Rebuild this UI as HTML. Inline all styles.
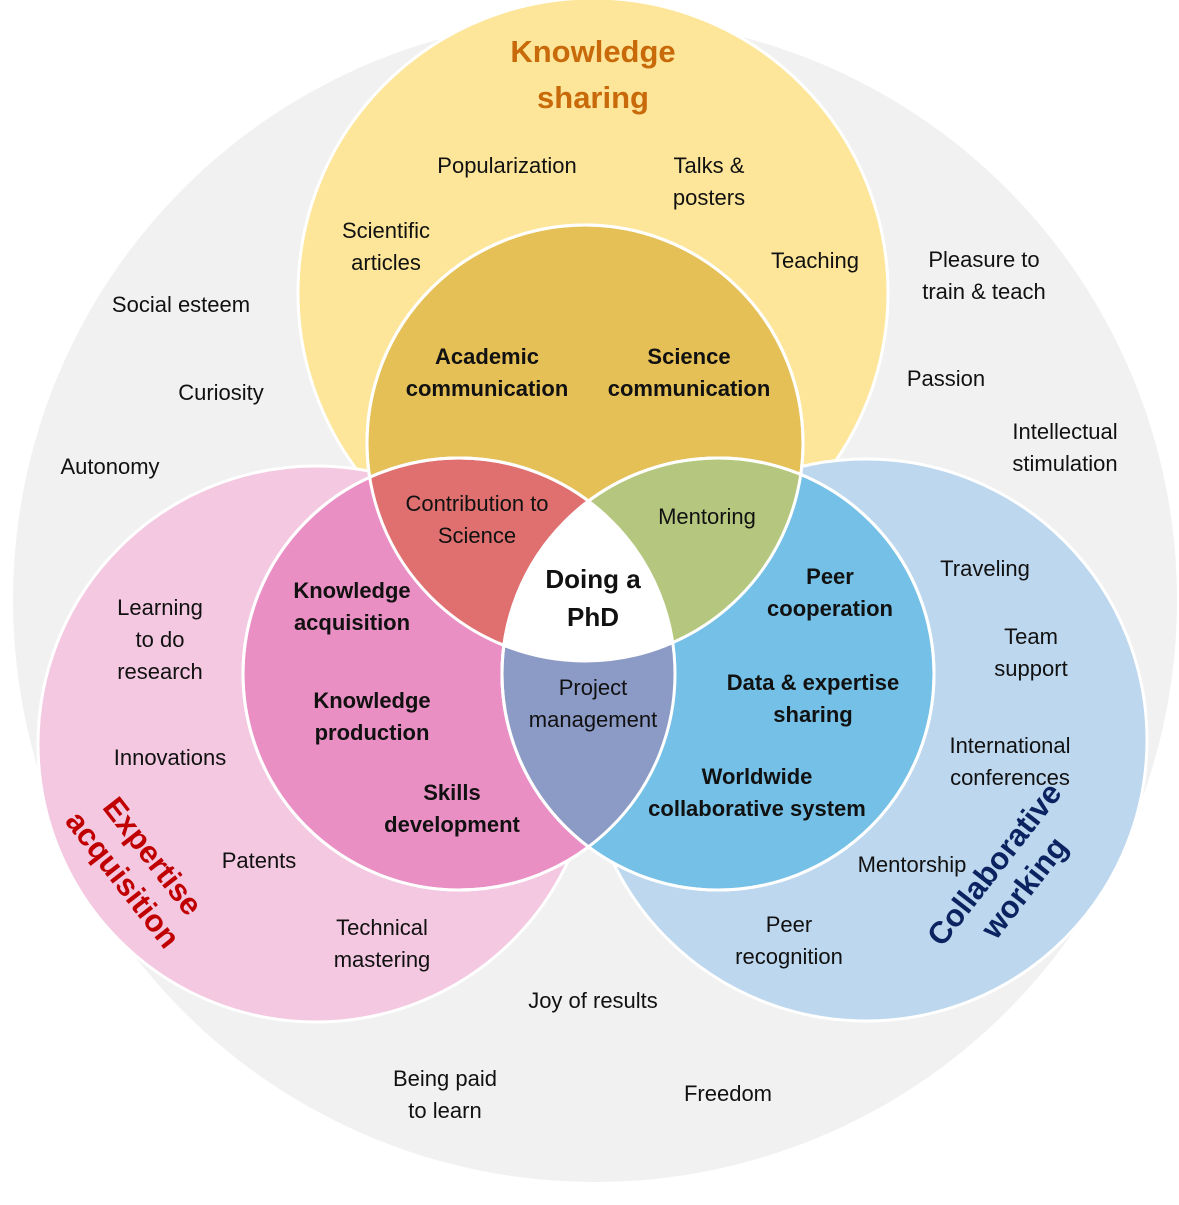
<!DOCTYPE html><html><head><style>body{margin:0;background:#fff}svg text{font-family:"Liberation Sans",sans-serif;font-size:22px;fill:#111;text-anchor:middle}.b{font-weight:bold}</style></head><body>
<svg width="1179" height="1200" viewBox="0 0 1179 1200">
<defs>
<clipPath id="cA"><circle cx="585" cy="443" r="218"/></clipPath>
<clipPath id="cB"><circle cx="459" cy="674" r="216"/></clipPath>
<clipPath id="cC"><circle cx="718" cy="674" r="216"/></clipPath>
</defs>
<circle cx="595" cy="600" r="582" fill="#f1f1f1"/>
<circle cx="593" cy="293" r="295" fill="#fde699" stroke="#fff" stroke-width="3"/>
<circle cx="316" cy="744" r="278" fill="#f3c8e0" stroke="#fff" stroke-width="3"/>
<circle cx="866" cy="740" r="281" fill="#bdd7ee" stroke="#fff" stroke-width="3"/>
<circle cx="585" cy="443" r="218" fill="#e5c057" stroke="#fff" stroke-width="3"/>
<circle cx="459" cy="674" r="216" fill="#ea8fc4" stroke="#fff" stroke-width="3"/>
<circle cx="718" cy="674" r="216" fill="#74c0e6" stroke="#fff" stroke-width="3"/>
<g clip-path="url(#cA)"><circle cx="459" cy="674" r="216" fill="#e07070" stroke="#fff" stroke-width="3"/><circle cx="718" cy="674" r="216" fill="#b5c77f" stroke="#fff" stroke-width="3"/></g>
<g clip-path="url(#cB)"><circle cx="718" cy="674" r="216" fill="#8c9ac6" stroke="#fff" stroke-width="3"/></g>
<g clip-path="url(#cA)"><g clip-path="url(#cB)"><circle cx="718" cy="674" r="216" fill="#fff"/></g></g>
<circle cx="585" cy="443" r="218" fill="none" stroke="#fff" stroke-width="3"/>
<circle cx="459" cy="674" r="216" fill="none" stroke="#fff" stroke-width="3"/>
<circle cx="718" cy="674" r="216" fill="none" stroke="#fff" stroke-width="3"/>

<text class="b" x="593" y="62" style="font-size:31px;fill:#c86a0a">Knowledge</text>
<text class="b" x="593" y="108" style="font-size:31px;fill:#c86a0a">sharing</text>
<text x="507" y="173">Popularization</text>
<text x="709" y="173">Talks &amp;</text><text x="709" y="205">posters</text>
<text x="386" y="238">Scientific</text><text x="386" y="270">articles</text>
<text x="815" y="268">Teaching</text>
<text x="984" y="267">Pleasure to</text><text x="984" y="299">train &amp; teach</text>
<text x="181" y="312">Social esteem</text>
<text x="221" y="400">Curiosity</text>
<text x="946" y="386">Passion</text>
<text x="1065" y="439">Intellectual</text><text x="1065" y="471">stimulation</text>
<text x="110" y="474">Autonomy</text>
<text class="b" x="487" y="364">Academic</text><text class="b" x="487" y="396">communication</text>
<text class="b" x="689" y="364">Science</text><text class="b" x="689" y="396">communication</text>
<text x="477" y="511">Contribution to</text><text x="477" y="543">Science</text>
<text x="707" y="524">Mentoring</text>
<text class="b" x="593" y="588" style="font-size:26px">Doing a</text><text class="b" x="593" y="626" style="font-size:26px">PhD</text>
<text x="593" y="695">Project</text><text x="593" y="727">management</text>
<text class="b" x="352" y="598">Knowledge</text><text class="b" x="352" y="630">acquisition</text>
<text class="b" x="372" y="708">Knowledge</text><text class="b" x="372" y="740">production</text>
<text class="b" x="452" y="800">Skills</text><text class="b" x="452" y="832">development</text>
<text class="b" x="830" y="584">Peer</text><text class="b" x="830" y="616">cooperation</text>
<text class="b" x="813" y="690">Data &amp; expertise</text><text class="b" x="813" y="722">sharing</text>
<text class="b" x="757" y="784">Worldwide</text><text class="b" x="757" y="816">collaborative system</text>
<text x="160" y="615">Learning</text><text x="160" y="647">to do</text><text x="160" y="679">research</text>
<text x="170" y="765">Innovations</text>
<text x="259" y="868">Patents</text>
<text x="382" y="935">Technical</text><text x="382" y="967">mastering</text>
<text x="985" y="576">Traveling</text>
<text x="1031" y="644">Team</text><text x="1031" y="676">support</text>
<text x="1010" y="753">International</text><text x="1010" y="785">conferences</text>
<text x="912" y="872">Mentorship</text>
<text x="789" y="932">Peer</text><text x="789" y="964">recognition</text>
<text x="593" y="1008">Joy of results</text>
<text x="445" y="1086">Being paid</text><text x="445" y="1118">to learn</text>
<text x="728" y="1101">Freedom</text>
<g transform="translate(135,870) rotate(52)"><text class="b" x="0" y="-12" style="font-size:31px;fill:#c00000">Expertise</text><text class="b" x="0" y="26" style="font-size:31px;fill:#c00000">acquisition</text></g>
<g transform="translate(1012,878) rotate(-52)"><text class="b" x="0" y="-12" style="font-size:31px;fill:#0b2461">Collaborative</text><text class="b" x="0" y="26" style="font-size:31px;fill:#0b2461">working</text></g>
</svg></body></html>
